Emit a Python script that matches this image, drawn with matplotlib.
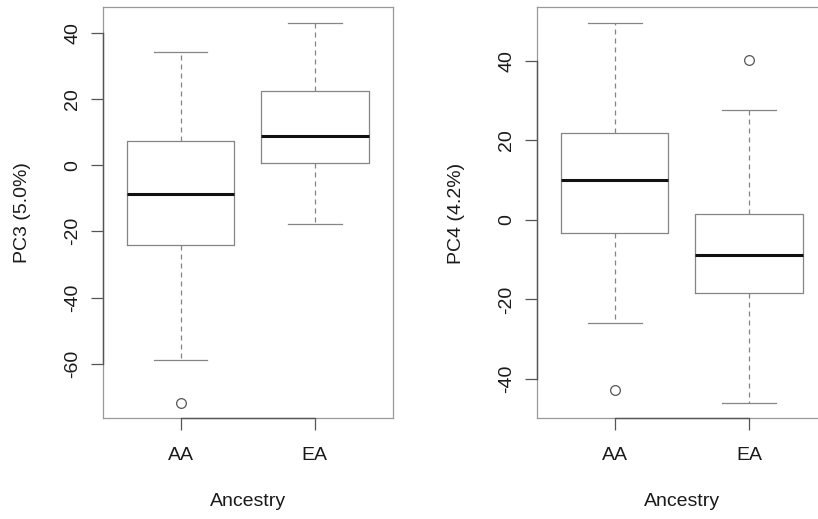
import matplotlib
matplotlib.use('Agg')
import matplotlib.pyplot as plt

# ---- data ----
groups = ['AA', 'EA']

pc3_whislo = [-58.8, -17.8]
pc3_q1 = [-24.0, 0.5]
pc3_med = [-8.8, 8.8]
pc3_q3 = [7.3, 22.4]
pc3_whishi = [34.3, 43.0]
pc3_fliers = [[-72.0], []]
pc3_yticks = [-60, -40, -20, 0, 20, 40]

pc4_whislo = [-26.0, -46.0]
pc4_q1 = [-3.2, -18.4]
pc4_med = [10.1, -8.8]
pc4_q3 = [21.8, 1.4]
pc4_whishi = [49.6, 27.6]
pc4_fliers = [[-42.9], [40.3]]
pc4_yticks = [-40, -20, 0, 20, 40]

xlabel = 'Ancestry'
ylabel_left = 'PC3 (5.0%)'
ylabel_right = 'PC4 (4.2%)'

plt.rcParams['font.family'] = ['Liberation Sans', 'DejaVu Sans']

W, H = 818, 519
fig = plt.figure(figsize=(W / 100, H / 100), dpi=100)

BOXC = '#858585'
AXC = '#555555'
FS = 14


def make_panel(left_px, ylim, whislo, q1, med, q3, whishi, fliers, yticks, ylabel):
    top_px, bot_px = 7.3, 418.3
    width_px = 290.0
    ax = fig.add_axes([left_px / W, (H - bot_px) / H, width_px / W, (bot_px - top_px) / H])
    stats = []
    for i, g in enumerate(groups):
        stats.append(dict(label=g, whislo=whislo[i], q1=q1[i], med=med[i],
                          q3=q3[i], whishi=whishi[i], fliers=fliers[i]))
    ax.bxp(stats, positions=[1, 2], widths=0.8, showfliers=True,
           boxprops=dict(color=BOXC, lw=0.9),
           whiskerprops=dict(color=BOXC, lw=0.9, linestyle=(0, (4, 3.2))),
           capprops=dict(color=BOXC, lw=0.9),
           medianprops=dict(color='#111111', lw=2.2, solid_capstyle='butt'),
           flierprops=dict(marker='o', markersize=7, markerfacecolor='none',
                           markeredgecolor='#555555', markeredgewidth=0.9),
           capwidths=0.4)
    ax.set_xlim(0.42, 2.58)
    ax.set_ylim(*ylim)
    for s in ax.spines.values():
        s.set_color('#999999')
        s.set_linewidth(0.9)
    ax.set_xticks([1, 2])
    ax.set_xticklabels(groups)
    ax.set_yticks(yticks)
    ax.set_yticklabels([str(t) for t in yticks], rotation=90, va='center')
    ax.tick_params(axis='both', direction='out', length=8.5, width=0.9,
                   color='#555555', labelsize=FS, labelcolor='#1a1a1a')
    ax.tick_params(axis='x', pad=12.5)
    ax.tick_params(axis='y', pad=7)
    # axis lines spanning first to last tick (R style)
    ax.plot([0, 0], [yticks[0], yticks[-1]], color=AXC, lw=1.0,
            transform=ax.get_yaxis_transform(), clip_on=False, zorder=5)
    ax.plot([1, 2], [0, 0], color=AXC, lw=1.0,
            transform=ax.get_xaxis_transform(), clip_on=False, zorder=5)
    cx = left_px + width_px / 2
    fig.text(cx / W, 1 - 501 / H, xlabel, ha='center', va='center',
             fontsize=FS, color='#1a1a1a')
    fig.text((left_px - 80) / W, 1 - 213 / H, ylabel, ha='center', va='center',
             rotation=90, fontsize=FS, color='#1a1a1a')
    return ax


make_panel(102.7, (-76.5, 47.7), pc3_whislo, pc3_q1, pc3_med, pc3_q3,
           pc3_whishi, pc3_fliers, pc3_yticks, ylabel_left)
make_panel(536.8, (-49.9, 53.5), pc4_whislo, pc4_q1, pc4_med, pc4_q3,
           pc4_whishi, pc4_fliers, pc4_yticks, ylabel_right)

fig.savefig('out.png', dpi=100, facecolor='white')
